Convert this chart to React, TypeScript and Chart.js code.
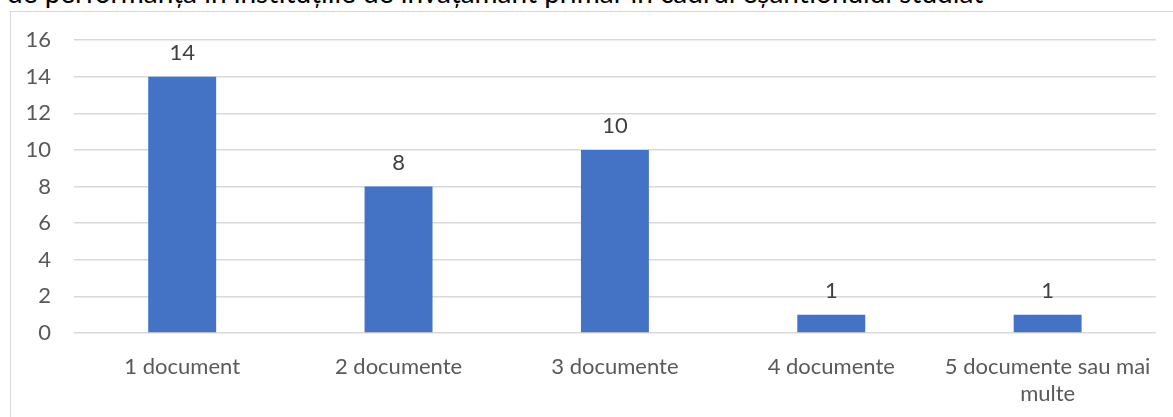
import React, { useEffect, useRef } from "react";
import { Chart, registerables } from "chart.js";

Chart.register(...registerables);

const titleText =
  "de performanță în instituțiile de învățământ primar în cadrul eșantionului studiat";
const categories: (string | string[])[] = [
  "1 document",
  "2 documente",
  "3 documente",
  "4 documente",
  ["5 documente sau mai", "multe"],
];
const values = [14, 8, 10, 1, 1];
const yMin = 0;
const yMax = 16;
const yStep = 2;

const FONT = "Lato, 'Open Sans', sans-serif";

const dataLabels = {
  id: "dataLabels",
  afterDatasetsDraw(chart: any) {
    const ctx = chart.ctx;
    const meta = chart.getDatasetMeta(0);
    ctx.save();
    ctx.fillStyle = "#404040";
    ctx.font = `22px ${FONT}`;
    ctx.textAlign = "center";
    ctx.textBaseline = "middle";
    meta.data.forEach((bar: any, i: number) => {
      ctx.fillText(String(values[i]), bar.x, bar.y - 24);
    });
    ctx.restore();
  },
};

export default function App() {
  const ref = useRef<HTMLCanvasElement | null>(null);
  useEffect(() => {
    document.body.style.margin = "0";
    const chart = new Chart(ref.current!, {
      type: "bar",
      data: {
        labels: categories,
        datasets: [
          {
            data: values,
            backgroundColor: "#4472C4",
            borderWidth: 0,
            barPercentage: 0.314,
            categoryPercentage: 1,
          },
        ],
      },
      options: {
        animation: false,
        responsive: false,
        events: [],
        layout: {
          autoPadding: false,
          padding: { left: 0, right: 16, top: 40, bottom: 0 },
        },
        plugins: {
          legend: { display: false },
          tooltip: { enabled: false },
          title: { display: false },
        },
        scales: {
          x: {
            grid: { display: false, drawTicks: false },
            border: { display: false },
            ticks: {
              color: "#595959",
              font: { family: FONT, size: 22 },
              padding: 21,
              maxRotation: 0,
              autoSkip: false,
            },
            afterFit(scale: any) {
              scale.height = 84;
            },
          },
          y: {
            min: yMin,
            max: yMax,
            grid: { color: "#d9d9d9", lineWidth: 1.5, drawTicks: false },
            border: { display: false },
            ticks: {
              stepSize: yStep,
              color: "#595959",
              font: { family: FONT, size: 22 },
              padding: 23,
            },
            afterFit(scale: any) {
              scale.width = 74;
            },
          },
        },
      },
      plugins: [dataLabels],
    });
    return () => chart.destroy();
  }, []);

  return (
    <div
      style={{
        position: "relative",
        width: 1173,
        height: 417,
        overflow: "hidden",
        background: "#fff",
      }}
    >
      <div
        style={{
          position: "absolute",
          left: 7,
          top: -22,
          whiteSpace: "nowrap",
          fontFamily: FONT,
          fontSize: 28,
          lineHeight: "28px",
          color: "#000",
        }}
      >
        {titleText}
      </div>
      <div
        style={{
          position: "absolute",
          left: 10,
          top: 11,
          width: 1300,
          height: 600,
          border: "1.5px solid #d9d9d9",
        }}
      />
      <canvas
        ref={ref}
        width={1173}
        height={417}
        style={{ position: "absolute", left: 0, top: 0 }}
      />
    </div>
  );
}
